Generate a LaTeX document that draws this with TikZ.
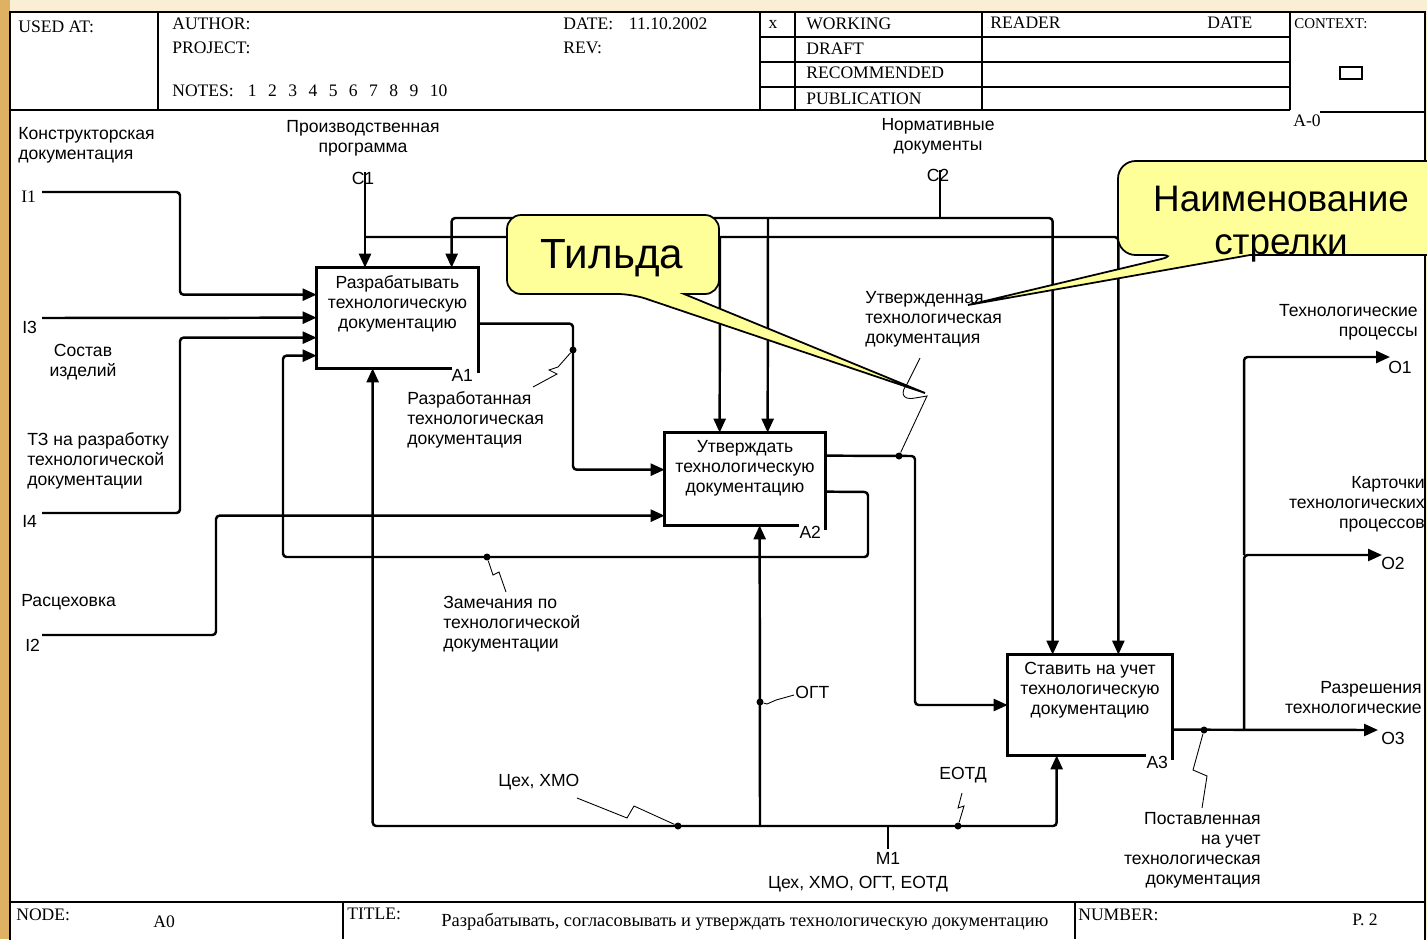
\documentclass[tikz,border=0pt]{standalone}
\usepackage{fontspec}
\setmainfont{Liberation Serif}
\setsansfont{Liberation Sans}
\usetikzlibrary{arrows.meta,positioning,calc}

\definecolor{slidecream}{RGB}{250,239,212}
\definecolor{slidegold}{RGB}{222,178,98}
\definecolor{calloutyellow}{RGB}{255,255,153}

\newcommand{\diagfont}{\sffamily\fontsize{10}{11.4}\selectfont}
\newcommand{\formfont}{\rmfamily\fontsize{10}{12}\selectfont}

\tikzset{
  frameline/.style={line width=0.8pt},
  formtext/.style={font=\formfont, inner sep=0pt, anchor=west},
  lbl/.style={font=\diagfont, inner sep=0pt, align=left},
  actbox/.style={inner sep=0pt, minimum width=32.2mm, minimum height=20mm},
  boxline/.style={line width=1.8pt},
  boxtext/.style={font=\diagfont, inner sep=0pt, align=center},
  flow/.style={line width=1.4pt, rounded corners=2pt, -{Triangle[length=2.8mm,width=2.4mm]}},
  wire/.style={line width=1.4pt, rounded corners=2pt},
  squiggle/.style={line width=0.5pt},
  jdot/.style={circle, fill, inner sep=0pt, minimum size=1.4mm},
  callout/.style={draw, line width=1pt, fill=calloutyellow},
}

\begin{document}
\begin{tikzpicture}[x=0.2mm,y=-0.2mm]
  \useasboundingbox (0,0) rectangle (1427,939);
  % slide background
  \fill[slidecream] (0,0) rectangle (1427,939);
  \fill[slidegold] (0,0) rectangle (10,939);

  % form frame
  \draw[frameline, fill=white] (10,12) rectangle (1425,950);
  \draw[frameline] (10,110) -- (1290,110);
  \foreach \xx in {158,760,795,982,1290}
    \draw[frameline] (\xx,12) -- (\xx,110);
  \foreach \yy in {37,62,87}
    \draw[frameline] (760,\yy) -- (1290,\yy);
  \draw[frameline] (1320,112) -- (1425,112);
  \draw[frameline] (1340,67) rectangle (1362,79);
  \draw[frameline] (10,902) -- (1425,902);
  \draw[frameline] (343,902) -- (343,939);
  \draw[frameline] (1075,902) -- (1075,939);

  % header
  \node[formtext] (usedat) at (18,27) {USED AT:};
  \node[formtext] (author) at (172,24) {AUTHOR:};
  \node[formtext] (project) at (172,48) {PROJECT:};
  \node[formtext] (notes) at (172,91) {NOTES:\hspace{8pt}1\hspace{6.5pt}2\hspace{6.5pt}3\hspace{6.5pt}4\hspace{6.5pt}5\hspace{6.5pt}6\hspace{6.5pt}7\hspace{6.5pt}8\hspace{6.5pt}9\hspace{6.5pt}10};
  \node[formtext] (date) at (563,24) {DATE:\hspace{9pt}11.10.2002};
  \node[formtext] (rev) at (563,48) {REV:};
  \node[formtext, anchor=center] (mark) at (773,24) {x};
  \node[formtext] (working) at (806,24) {WORKING};
  \node[formtext] (draft) at (806,49) {DRAFT};
  \node[formtext] (recomm) at (806,73) {RECOMMENDED};
  \node[formtext] (public) at (806,99) {PUBLICATION};
  \node[formtext] (reader) at (990,23) {READER};
  \node[formtext] (rdate) at (1207,23) {DATE};
  \node[formtext, font=\rmfamily\fontsize{8.5}{10}\selectfont] (context) at (1294,24) {CONTEXT:};
  \node[formtext] (aminus) at (1293,121) {A-0};

  % footer
  \node[formtext] (nodelbl) at (16,915) {NODE:};
  \node[formtext] (nodeval) at (153,922) {A0};
  \node[formtext] (titlelbl) at (347,914) {TITLE:};
  \node[formtext, font=\rmfamily\fontsize{10.5}{12}\selectfont] (titleval) at (441,922) {Разрабатывать, согласовывать и утверждать технологическую документацию};
  \node[formtext] (numlbl) at (1078,915) {NUMBER:};
  \node[formtext] (numval) at (1352,920) {P.\ 2};

  % activity boxes
  \node[actbox] (a1) at (397.5,318) {};
  \node[actbox, minimum width=32mm, minimum height=18.4mm] (a2) at (745,479) {};
  \node[actbox, minimum width=32.8mm] (a3) at (1090,705) {};
  \foreach \b in {a1,a2,a3}
    \draw[boxline] ($(\b.south east)+(-26,0)$) -- (\b.south west) -- (\b.north west)
      -- (\b.north east) -- ($(\b.south east)+(0,5)$);
  \node[boxtext, below=1.6mm of a1.north] (a1txt) {Разрабатывать\\технологическую\\документацию};
  \node[boxtext, below=1.4mm of a2.north] (a2txt) {Утверждать\\технологическую\\документацию};
  \node[boxtext, below=1.4mm of a3.north] (a3txt) {Ставить на учет\\технологическую\\документацию};
  \node[lbl, anchor=north east] (a1id) at ($(a1.south east)+(-5,1)$) {A1};
  \node[lbl, anchor=north east] (a2id) at ($(a2.south east)+(-4,1)$) {A2};
  \node[lbl, anchor=north east] (a3id) at ($(a3.south east)+(-4,1)$) {A3};

  % boundary ends
  \coordinate (i1) at (42,192);
  \coordinate (i3) at (42,318);
  \coordinate (i4) at (42,513);
  \coordinate (i2) at (42,635);
  \coordinate (c1) at (365,172);
  \coordinate (c2) at (940,170);
  \coordinate (m1) at (888,849);
  \coordinate (o1) at (1390,357);
  \coordinate (o2) at (1382,555);
  \coordinate (o3) at (1378,730);

  % inputs
  \draw[flow] (i1) -- (180,192) |- ($(a1.north west)+(0,27)$);
  \draw[flow] (i3) -- ($(a1.north west)+(0,50)$);
  \draw[flow] (i4) -- (180,513) |- ($(a1.north west)+(0,70)$);
  \draw[flow] (i2) -- (216,635) |- ($(a2.north west)+(0,83)$);

  % controls
  \draw[flow] (c1) -- (c1 |- a1.north);
  \draw[flow] (365,237) -| ($(a3.north east)+(-54,0)$);
  \draw[flow] (720,237) -- ($(a2.north west)+(55,0)$);
  \draw[wire] (c2) -- (940,218);
  \draw[flow] (940,218) -| ($(a1.north west)+(135,0)$);
  \draw[flow] (940,218) -| ($(a3.north west)+(45,0)$);
  \draw[flow] (768,218) -- ($(a2.north west)+(103,0)$);

  % mechanisms
  \draw[wire] (m1) -- (888,826);
  \draw[flow] (888,826) -| ($(a1.south west)+(56,0)$);
  \draw[flow] (888,826) -| ($(a3.south west)+(49,0)$);
  \draw[flow] (760,826) -- ($(a2.south west)+(95,0)$);

  % junction dots
  \node[jdot] (k1) at (573,350) {};
  \node[jdot] (k2) at (487,557) {};
  \node[jdot] (k3) at (899,456) {};
  \node[jdot] (k4) at (760,702) {};
  \node[jdot] (k5) at (678,826) {};
  \node[jdot] (k6) at (958,826) {};
  \node[jdot] (k7) at (1204,730) {};

  % internal flows and outputs
  \draw[flow] ($(a1.north east)+(0,56)$) -| (k1.center) |- ($(a2.north west)+(0,37)$);
  \draw[flow] ($(a2.north east)+(0,59)$) -- (868,492) -- (868,557) -- (283,557) |- ($(a1.north west)+(0,88)$);
  \draw[flow] ($(a2.north east)+(0,23)$) -- (915,456) |- (a3.west);
  \draw[flow] ($(a3.north east)+(0,75)$) -- (o3);
  \draw[flow] (1244,730) |- (o2);
  \draw[flow] (1244,555) |- (o1);

  % squiggles
  \draw[squiggle] (k1) -- (558,367) -- (549,370) -- (557,374) -- (533,387);
  \draw[squiggle] (k2) -- (493,575) -- (499,572) -- (506,592);
  \draw[squiggle] (k3) -- (927,396) -- (915,398) .. controls (900,401) and (902,390) .. (906,386) -- (920,358);
  \draw[squiggle] (k4) -- (767,704) -- (776,700) -- (794,695);
  \draw[squiggle] (k5) -- (634,806) -- (627,818) -- (577,798);
  \draw[squiggle] (k6) -- (964,806) -- (958,808) -- (962,793);
  \draw[squiggle] (k7) -- (1193,770) -- (1207,776) -- (1202,808);

  % arrow labels
  \node[lbl, anchor=north west] (konstr) at (18,127) {Конструкторская\\документация};
  \node[lbl, anchor=west, font=\formfont] (i1lbl) at (21,197) {I1};
  \node[lbl, anchor=west] (i3lbl) at (22,327) {I3};
  \node[lbl, anchor=north, align=center] (sostav) at (83,344) {Состав\\изделий};
  \node[lbl, anchor=north west] (tz) at (27,432) {ТЗ на разработку\\технологической\\документации};
  \node[lbl, anchor=west] (i4lbl) at (22,521) {I4};
  \node[lbl, anchor=west] (rasc) at (21,602) {Расцеховка};
  \node[lbl, anchor=west] (i2lbl) at (25,645) {I2};
  \node[lbl, anchor=north, align=center] (prog) at (363,120) {Производственная\\программа};
  \node[lbl] (c1lbl) at (363,178) {C1};
  \node[lbl, anchor=north, align=center] (norm) at (938,118) {Нормативные\\документы};
  \node[lbl] (c2lbl) at (938,175) {C2};
  \node[lbl, anchor=north west] (razr) at (407,391) {Разработанная\\технологическая\\документация};
  \node[lbl, anchor=north west] (zam) at (443,596) {Замечания по\\технологической\\документации};
  \node[lbl, anchor=north west] (utv) at (865,291) {Утвержденная\\технологическая\\документация};
  \node[lbl, anchor=north east, align=right] (post) at (1261,812) {Поставленная\\на учет\\технологическая\\документация};
  \node[lbl, anchor=west] (cehxmo) at (498,782) {Цех, ХМО};
  \node[lbl, anchor=west] (ogt) at (795,692) {ОГТ};
  \node[lbl] (eotd) at (963,775) {ЕОТД};
  \node[lbl] (m1lbl) at (888,858) {M1};
  \node[lbl] (mall) at (858,884) {Цех, ХМО, ОГТ, ЕОТД};
  \node[lbl, anchor=north east, align=right] (techpr) at (1418,304) {Технологические\\процессы};
  \node[lbl] (o1lbl) at (1400,367) {O1};
  \node[lbl, anchor=north east, align=right] (kart) at (1425,476) {Карточки\\технологических\\процессов};
  \node[lbl] (o2lbl) at (1393,563) {O2};
  \node[lbl, anchor=north east, align=right] (razresh) at (1422,681) {Разрешения\\технологические};
  \node[lbl] (o3lbl) at (1393,738) {O3};

  % callouts
  \draw[callout] (925,393) -- (684,294) [rounded corners=8pt] -- (719,294) -- (719,215)
    -- (507,215) -- (507,294) -- (632,294) [sharp corners] -- cycle;
  \node[font=\sffamily\fontsize{24}{28}\selectfont, anchor=base, inner sep=0pt] (tilda) at (612,268) {Тильда};
  \draw[callout] (968,305) -- (1250,255) [rounded corners=10pt] -- (1445,255) -- (1445,161)
    -- (1118,161) -- (1118,255) -- (1178,255) [sharp corners] -- cycle;
  \node[font=\sffamily\fontsize{21}{24.5}\selectfont, align=center, anchor=north, inner sep=0pt] (arrname) at (1281,186) {Наименование\\стрелки};
\end{tikzpicture}
\end{document}
